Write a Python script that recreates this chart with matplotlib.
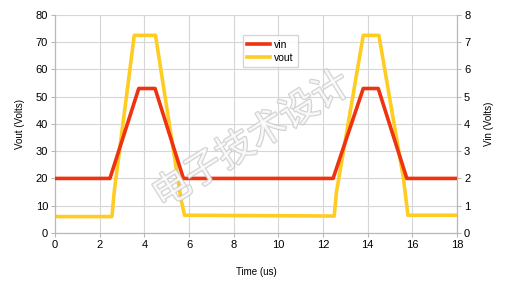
import matplotlib.pyplot as plt
import matplotlib.patheffects as pe

# vin (red, right axis, volts) breakpoints
vin_t = [0, 2.46, 3.75, 4.48, 5.75, 12.45, 13.8, 14.47, 15.75, 18]
vin_v = [2.0, 2.0, 5.3, 5.3, 2.0, 2.0, 5.3, 5.3, 2.0, 2.0]

# vout (yellow, left axis, volts)
vout_t = [0, 2.55, 2.65, 3.55, 4.5, 4.7, 5.65, 5.8, 12.5, 12.6, 13.8, 14.5, 15.6, 15.8, 18]
vout_v = [6.0, 6.0, 15, 72.5, 72.5, 62, 12, 6.5, 6.2, 15, 72.5, 72.5, 20, 6.5, 6.5]

xticks = list(range(0, 19, 2))
left_ticks = list(range(0, 81, 10))
right_ticks = list(range(0, 9))

plt.rcParams['font.family'] = ['Liberation Sans', 'DejaVu Sans']

fig = plt.figure(figsize=(5.09, 2.81), dpi=100)
ax = fig.add_axes([0.108, 0.171, 0.790, 0.776])
ax2 = ax.twinx()

gray = '#b8b8b8'
ax.set_xlim(0, 18)
ax.set_ylim(0, 80)
ax2.set_ylim(0, 8)
ax.set_xticks(xticks)
ax.set_yticks(left_ticks)
ax2.set_yticks(right_ticks)
ax.grid(True, color='#d6d6d6', linewidth=0.8)
ax.set_axisbelow(True)

for a in (ax, ax2):
    for s in a.spines.values():
        s.set_color(gray)
        s.set_linewidth(0.8)
    a.tick_params(labelsize=8, color=gray, length=3, width=0.8, pad=2)
ax.spines['top'].set_visible(False)
ax2.spines['top'].set_visible(False)

l1, = ax2.plot(vin_t, vin_v, color='#ee3311', linewidth=2.6, label='vin', zorder=3)
l2, = ax.plot(vout_t, vout_v, color='#ffcc22', linewidth=2.6, label='vout', zorder=2)
ax2.set_zorder(ax.get_zorder() + 1)

ax.set_xlabel('Time (us)', fontsize=7, labelpad=12)
ax.set_ylabel('Vout (Volts)', fontsize=7, labelpad=8)
ax2.set_ylabel('Vin (Volts)', fontsize=7, labelpad=10)

ax2.legend(handles=[l1, l2], loc='upper left', bbox_to_anchor=(0.455, 0.93),
           fontsize=7.5, frameon=True, fancybox=False, edgecolor='#cccccc',
           handlelength=2.2, borderpad=0.4, labelspacing=0.3, handletextpad=0.4)

fig.text(0.495, 0.50, '电子技术设计', fontsize=27, rotation=32, ha='center', va='center',
         color='white', alpha=0.75, family=['Noto Sans CJK SC', 'DejaVu Sans'],
         path_effects=[pe.withStroke(linewidth=1.6, foreground='#c4c4c4')], zorder=10)

fig.savefig('out.png', dpi=100, facecolor='white')
